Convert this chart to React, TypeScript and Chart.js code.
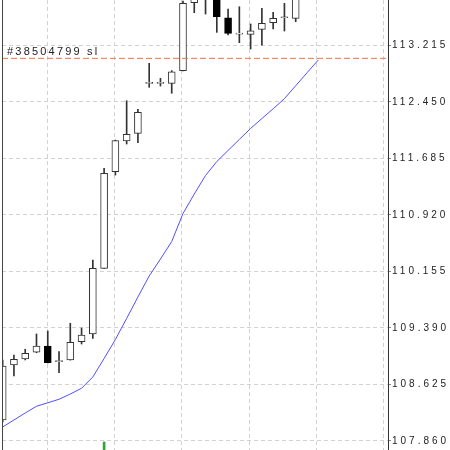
import { useEffect, useRef } from 'react';
import { Chart, registerables } from 'chart.js';

Chart.register(...registerables);

// ---- data ----
const candleIndex = [0, 1, 2, 3, 4, 5, 6, 7, 8, 9, 10, 11, 12, 13, 14, 15, 16, 17, 18, 19, 20, 21, 22, 23, 24, 25, 26];
const opens = [108.144, 108.889, 108.970, 109.061, 109.146, 108.934, 108.957, 109.204, 109.309, 110.198, 111.506, 111.922, 112.026, 112.703, 112.703, 112.703, 112.874, 113.794, 113.966, 114.034, 113.591, 113.370, 113.366, 113.434, 113.524, 113.591, 113.583];
const highs = [108.957, 109.024, 109.102, 109.309, 109.349, 109.069, 109.454, 109.390, 110.311, 111.552, 111.935, 112.467, 112.351, 112.974, 112.771, 112.874, 113.817, 114.034, 114.237, 114.101, 113.709, 113.740, 113.506, 113.718, 113.664, 113.786, 113.898];
const lows = [108.117, 108.740, 108.957, 109.055, 108.916, 108.785, 108.955, 109.173, 109.250, 110.195, 111.461, 111.881, 111.899, 112.649, 112.666, 112.568, 112.872, 113.659, 113.641, 113.393, 113.357, 113.253, 113.167, 113.221, 113.438, 113.411, 113.537];
const closes = [108.875, 108.966, 109.047, 109.146, 108.920, 108.936, 109.196, 109.295, 110.198, 111.484, 111.926, 112.012, 112.310, 112.705, 112.705, 112.860, 113.786, 113.939, 114.169, 113.605, 113.380, 113.372, 113.415, 113.515, 113.583, 113.593, 113.871];

const maIndex = [0, 1, 2, 3, 4, 5, 6, 7, 8, 9, 10, 11, 12, 13, 14, 15, 16, 17, 18, 19, 20, 21, 22, 23, 24, 25, 26, 27, 28];
const maValues = [108.050, 108.144, 108.239, 108.330, 108.377, 108.425, 108.496, 108.574, 108.727, 108.977, 109.234, 109.519, 109.810, 110.094, 110.324, 110.561, 110.940, 111.204, 111.455, 111.644, 111.794, 111.943, 112.092, 112.226, 112.358, 112.496, 112.670, 112.845, 113.018];

const priceTicks = ['107.860', '108.625', '109.390', '110.155', '110.920', '111.685', '112.450', '113.215'];
const gridIndex = [4.02, 9.96, 15.91, 21.94, 27.89, 33.83];

const slLevel = 113.041;
const slLabel = '#38504799 sl';
const tradeMarkIndex = 9;
const tradeMarkRange = [107.70, 107.846];

const xMin = -0.06;
const xMax = 34.19;
const yMin = 107.738;
const yMax = 113.831;

export default function App() {
  const ref = useRef<HTMLCanvasElement | null>(null);

  useEffect(() => {
    const canvas = ref.current;
    if (!canvas) return;

    const bull = candleIndex.map((i) => closes[i] >= opens[i]);
    const bodyColors = bull.map((b) => (b ? '#ffffff' : '#000000'));
    const bodyBorders = bull.map((b) => (b ? '#333333' : '#000000'));

    const framePlugin = {
      id: 'frame',
      beforeDraw(chart: any) {
        chart.ctx.letterSpacing = '3px';
      },
      afterDraw(chart: any) {
        const { ctx, chartArea, scales } = chart;
        ctx.save();
        ctx.strokeStyle = '#444444';
        ctx.lineWidth = 1;
        ctx.beginPath();
        ctx.moveTo(chartArea.left + 0.5, 0);
        ctx.lineTo(chartArea.left + 0.5, chart.height);
        ctx.stroke();
        const y = scales.y.getPixelForValue(slLevel);
        ctx.fillStyle = '#222222';
        ctx.font = '11px "Liberation Sans"';
        ctx.letterSpacing = '2.2px';
        ctx.textBaseline = 'alphabetic';
        ctx.textAlign = 'left';
        ctx.fillText(slLabel, 7, y - 3);
        ctx.restore();
      },
    };

    const chart = new Chart(canvas, {
      type: 'bar',
      data: {
        datasets: [
          {
            type: 'line',
            data: maIndex.map((i) => ({ x: i, y: maValues[i] })),
            borderColor: '#5050ff',
            borderWidth: 1,
            pointRadius: 0,
            tension: 0,
            order: 0,
          } as any,
          {
            type: 'line',
            data: [
              { x: xMin, y: slLevel },
              { x: xMax, y: slLevel },
            ],
            borderColor: '#f97040',
            borderWidth: 1,
            borderDash: [6, 3],
            pointRadius: 0,
            order: 0,
          } as any,
          {
            data: candleIndex.map((i) => ({ x: i, y: [Math.min(opens[i], closes[i]), Math.max(opens[i], closes[i])] })),
            backgroundColor: bodyColors,
            borderColor: bodyBorders,
            borderWidth: 1,
            borderSkipped: false,
            barThickness: 7,
            minBarLength: 1,
            grouped: false,
            order: 1,
          } as any,
          {
            data: candleIndex.map((i) => ({ x: i, y: [lows[i], highs[i]] })),
            backgroundColor: '#333333',
            borderWidth: 0,
            barThickness: 1,
            grouped: false,
            order: 2,
          } as any,
          {
            data: [{ x: tradeMarkIndex, y: tradeMarkRange }],
            backgroundColor: '#2ea82e',
            borderWidth: 0,
            barThickness: 2,
            grouped: false,
            order: 2,
          } as any,
        ],
      },
      options: {
        animation: false,
        responsive: false,
        events: [],
        layout: { padding: { left: 2, right: 0, top: 0, bottom: 0 } },
        plugins: { legend: { display: false }, tooltip: { enabled: false } },
        scales: {
          x: {
            type: 'linear',
            position: 'bottom',
            min: xMin,
            max: xMax,
            offset: false,
            ticks: { display: false },
            grid: { color: '#d2d2d2', lineWidth: 1, drawTicks: false, offset: false },
            border: { display: false, dash: [4, 3] },
            afterBuildTicks: (s: any) => {
              s.ticks = gridIndex.map((v) => ({ value: v }));
            },
            afterFit: (s: any) => {
              s.height = 0;
              s.paddingLeft = 0;
              s.paddingRight = 0;
            },
          },
          y: {
            type: 'linear',
            position: 'right',
            min: yMin,
            max: yMax,
            ticks: {
              color: '#222222',
              font: { family: '"Liberation Sans"', size: 10 },
              padding: 1,
              callback: (v: any) => Number(v).toFixed(3),
            },
            grid: { color: '#d2d2d2', lineWidth: 1, tickLength: 3, tickColor: '#888888', tickBorderDash: [] as any },
            border: { display: true, color: '#333333', width: 1, dash: [4, 3] },
            afterBuildTicks: (s: any) => {
              s.ticks = priceTicks.map((t) => ({ value: parseFloat(t) }));
            },
            afterFit: (s: any) => {
              s.width = 62;
              s.paddingTop = 0;
              s.paddingBottom = 0;
            },
          },
        },
      } as any,
      plugins: [framePlugin],
    });

    return () => chart.destroy();
  }, []);

  return (
    <div style={{ position: 'fixed', left: 0, top: 0, width: 450, height: 450, background: '#ffffff' }}>
      <canvas ref={ref} width={450} height={450} style={{ display: 'block' }} />
    </div>
  );
}
